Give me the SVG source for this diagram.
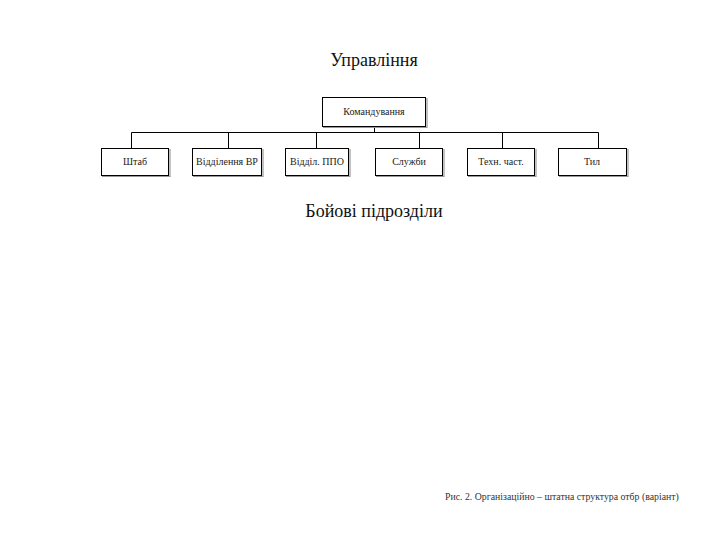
<svg xmlns="http://www.w3.org/2000/svg" width="720" height="540" viewBox="0 0 720 540">
<style>
.box{fill:#fff;stroke:#000;stroke-width:1}
.sh{fill:none;stroke:#999;stroke-width:1.2}
.lbl{font-family:"Liberation Serif","Times New Roman",serif;font-size:10px;fill:#222;text-anchor:middle}
.head{font-family:"Liberation Serif","Times New Roman",serif;font-size:18px;fill:#111;text-anchor:middle}
.cap{font-family:"Liberation Serif","Times New Roman",serif;font-size:9.8px;fill:#333}
.ln{stroke:#000;stroke-width:1;fill:none}
</style>
<rect width="720" height="540" fill="#fff"/>
<text class="head" x="374" y="66">Управління</text>
<g id="connectors">
<path class="ln" d="M374.5 127 V132.5 M131.5 132.5 H598.5 M131.5 132.5 V148 M228.5 132.5 V148 M316.5 132.5 V148 M419.5 132.5 V148 M502.5 132.5 V148 M598.5 132.5 V148"/>
</g>
<g id="n-command">
<path class="sh" d="M427 98 V127.5 H323"/>
<rect class="box" x="322.5" y="97.5" width="103" height="29"/>
<text class="lbl" x="374" y="115">Командування</text>
</g>
<g id="n-shtab">
<path class="sh" d="M170 149 V176.5 H102"/>
<rect class="box" x="101.5" y="148.5" width="67" height="27"/>
<text class="lbl" x="135" y="165">Штаб</text>
</g>
<g id="n-vr">
<path class="sh" d="M263 149 V176.5 H193"/>
<rect class="box" x="192.5" y="148.5" width="69" height="27"/>
<text class="lbl" x="227" y="165">Відділення ВР</text>
</g>
<g id="n-ppo">
<path class="sh" d="M350 149 V176.5 H286"/>
<rect class="box" x="285.5" y="148.5" width="63" height="27"/>
<text class="lbl" x="317" y="165">Відділ. ППО</text>
</g>
<g id="n-sluzhby">
<path class="sh" d="M444 149 V176.5 H376"/>
<rect class="box" x="375.5" y="148.5" width="67" height="27"/>
<text class="lbl" x="409" y="165">Служби</text>
</g>
<g id="n-tekh">
<path class="sh" d="M536 149 V176.5 H468"/>
<rect class="box" x="467.5" y="148.5" width="67" height="27"/>
<text class="lbl" x="501" y="165">Техн. част.</text>
</g>
<g id="n-tyl">
<path class="sh" d="M628 149 V176.5 H559"/>
<rect class="box" x="558.5" y="148.5" width="68" height="27"/>
<text class="lbl" x="592" y="165">Тил</text>
</g>
<text class="head" x="374" y="217">Бойові підрозділи</text>
<text class="cap" x="445" y="500">Рис. 2. Організаційно – штатна структура отбр (варіант)</text>
</svg>
